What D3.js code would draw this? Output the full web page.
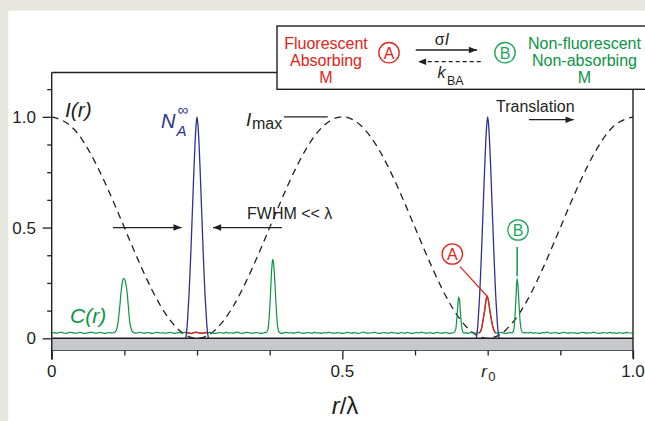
<!DOCTYPE html>
<html>
<head>
<meta charset="utf-8">
<script src="https://cdn.jsdelivr.net/npm/d3@7"></script>
<style>
  body { margin: 0; background: #e7e7df; }
  svg { display: block; font-family: "Liberation Sans", Arial, Helvetica, sans-serif; }
  text { fill: #231f20; }
</style>
</head>
<body>
<svg id="chart" width="645" height="421"></svg>
<script>
// ---------- data ----------

// I(r): excitation intensity, sampled every lambda/32
var intensityVals = [1, 0.962, 0.854, 0.691, 0.5, 0.309, 0.146, 0.038, 0,
  0.038, 0.146, 0.309, 0.5, 0.691, 0.854, 0.962, 1,
  0.962, 0.854, 0.691, 0.5, 0.309, 0.146, 0.038, 0,
  0.038, 0.146, 0.309, 0.5, 0.691, 0.854, 0.962, 1];

// N_A^inf peaks: centres and the shape read around each centre
var nACenters = [0.25, 0.75];
var nAOffsets = [-0.0195, -0.0172, -0.0155, -0.0137, -0.012, -0.0103, -0.0086, -0.0069, -0.0052, -0.0034, -0.0017, 0,
  0.0017, 0.0034, 0.0052, 0.0069, 0.0086, 0.0103, 0.012, 0.0137, 0.0155, 0.0172, 0.0195];
var nAVals = [0, 0.05, 0.12, 0.2, 0.3, 0.41, 0.53, 0.65, 0.77, 0.88, 0.96, 1,
  0.96, 0.88, 0.77, 0.65, 0.53, 0.41, 0.3, 0.2, 0.12, 0.05, 0];

// C(r): noisy background (thousandths), one value every 0.004
var cStep = 0.004;
var cBaseline = [
  24,26,23,25,28,24,22,25,27,26,23,24,27,25,22,24,26,28,25,23,25,27,24,22,25,
  26,24,27,25,23,26,28,24,22,25,26,23,25,27,24,23,26,25,22,24,27,26,24,25,23,
  25,27,24,22,26,25,23,27,26,24,22,25,28,25,23,24,26,24,27,25,22,24,26,25,23,
  27,24,25,23,26,28,24,22,25,27,25,23,24,26,25,22,24,27,26,24,25,23,26,24,22,
  25,27,24,26,23,25,28,25,22,24,26,25,23,27,24,25,22,26,24,27,25,23,24,26,25,
  22,24,27,25,23,26,24,22,25,28,25,23,24,26,27,24,22,25,26,24,23,27,25,24,22,
  26,25,23,27,24,22,25,26,24,28,25,23,24,26,22,25,27,24,23,26,25,22,24,27,25,
  23,26,24,25,22,27,25,24,26,23,25,28,24,22,25,26,24,23,27,25,22,24,26,25,23,
  27,24,22,25,26,24,27,23,25,24,22,26,25,28,24,23,25,26,22,24,27,25,23,26,24,
  25,22,24,27,26,23,25,24,28,25,22,24,26,25,23,27,24,25,22,26,24,23,27,25,24,
  25];

// C(r): peaks of single molecules [r, C]
var cPeaks = [
  [[0.108,0.026],[0.111,0.035],[0.114,0.07],[0.117,0.14],[0.119,0.2],[0.121,0.245],[0.123,0.268],[0.1245,0.27],
   [0.126,0.262],[0.128,0.24],[0.130,0.2],[0.132,0.14],[0.134,0.08],[0.137,0.04],[0.140,0.027]],
  [[0.369,0.026],[0.372,0.04],[0.374,0.09],[0.376,0.18],[0.378,0.29],[0.3795,0.345],[0.3805,0.357],[0.382,0.33],
   [0.384,0.25],[0.386,0.15],[0.388,0.07],[0.390,0.035],[0.392,0.026]],
  [[0.692,0.026],[0.695,0.04],[0.697,0.09],[0.699,0.16],[0.700,0.186],[0.7015,0.175],[0.703,0.12],[0.705,0.06],
   [0.707,0.03],[0.709,0.025]],
  [[0.735,0.024],[0.739,0.04],[0.742,0.08],[0.745,0.13],[0.747,0.17],[0.749,0.19],[0.751,0.175],[0.753,0.14],
   [0.756,0.09],[0.759,0.05],[0.763,0.026]],
  [[0.793,0.026],[0.795,0.04],[0.797,0.1],[0.799,0.2],[0.8005,0.27],[0.802,0.24],[0.804,0.15],[0.806,0.07],
   [0.808,0.035],[0.810,0.026]]
];

// parts of C(r) where the molecules are in state A (drawn red)
var redWindows = [[0.232, 0.268], [0.733, 0.767]];

// ticks
var xTickVals = [0, 0.125, 0.25, 0.375, 0.5, 0.625, 0.75, 0.875, 1];
var xTickLabels = ["0", "", "", "", "0.5", "", "r_0", "", "1.0"];
var yTickVals = [0, 0.125, 0.25, 0.375, 0.5, 0.625, 0.75, 0.875, 1, 1.125];
var yTickLabels = ["0", "", "", "", "0.5", "", "", "", "1.0", ""];

// ---------- layout ----------
var margin = {top: 72.5, right: 12, bottom: 70.5, left: 51.7},
    width = 645 - margin.left - margin.right,
    height = 421 - margin.top - margin.bottom;

var ink = "#231f20", red = "#e2231a", green = "#0b9444", green2 = "#18a657", blue = "#2e3192";

var svg = d3.select("#chart");

// page panel
svg.append("rect").attr("x", 0).attr("y", 0).attr("width", 645).attr("height", 421).attr("fill", "#e7e7df");
svg.append("rect").attr("x", 8.3).attr("y", 10.7).attr("width", 645).attr("height", 421).attr("fill", "#fff");

var defs = svg.append("defs");
defs.append("marker")
    .attr("id", "head")
    .attr("viewBox", "0 0 10 8")
    .attr("refX", 10).attr("refY", 4)
    .attr("markerWidth", 9).attr("markerHeight", 6.5)
    .attr("markerUnits", "userSpaceOnUse")
    .attr("orient", "auto")
  .append("path")
    .attr("d", "M0,0L10,4L0,8Z")
    .attr("fill", ink);

var x = d3.scaleLinear().domain([0, 1]).range([0, width]);
var y = d3.scaleLinear().domain([-0.055, 1.2]).range([height, 0]);

var g = svg.append("g")
    .attr("transform", "translate(" + margin.left + "," + margin.top + ")");

// grey band under zero
g.append("rect")
    .attr("x", 0).attr("y", y(0))
    .attr("width", width).attr("height", y(-0.055) - y(0))
    .attr("fill", "#c6c8ce");

// ---------- series ----------
var intensity = intensityVals.map(function(v, i) { return [i / 32, v]; });

var nA = [];
nACenters.forEach(function(c) {
  nAOffsets.forEach(function(o, i) { nA.push([c + o, nAVals[i]]); });
});

function inPeak(r) {
  return cPeaks.some(function(p) { return r >= p[0][0] && r <= p[p.length - 1][0]; });
}
var cSeries = [];
cBaseline.forEach(function(v, i) {
  var r = i * cStep;
  if (!inPeak(r)) cSeries.push([r, v / 1000]);
});
cPeaks.forEach(function(p) { p.forEach(function(d) { cSeries.push(d); }); });
cSeries.sort(function(a, b) { return a[0] - b[0]; });

var line = d3.line()
    .x(function(d) { return x(d[0]); })
    .y(function(d) { return y(d[1]); })
    .curve(d3.curveMonotoneX);

g.append("path")
    .attr("d", d3.line().x(function(d) { return x(d[0]); }).y(function(d) { return y(d[1]); })
      .curve(d3.curveNatural)(intensity))
    .attr("fill", "none")
    .attr("stroke", ink)
    .attr("stroke-width", 1.3)
    .attr("stroke-dasharray", "7,5");

g.append("path")
    .attr("d", line(cSeries))
    .attr("fill", "none")
    .attr("stroke", green)
    .attr("stroke-width", 1.2);

redWindows.forEach(function(w) {
  var part = cSeries.filter(function(d) { return d[0] >= w[0] && d[0] <= w[1]; });
  g.append("path")
      .attr("d", line(part))
      .attr("fill", "none")
      .attr("stroke", red)
      .attr("stroke-width", 1.4);
});

nACenters.forEach(function(c) {
  var part = nA.filter(function(d) { return Math.abs(d[0] - c) < 0.03; });
  g.append("path")
      .attr("d", line(part))
      .attr("fill", "none")
      .attr("stroke", blue)
      .attr("stroke-width", 1.3);
});

// ---------- frame & axes ----------
g.append("line").attr("x1", 0).attr("x2", width).attr("y1", y(0)).attr("y2", y(0))
    .attr("stroke", ink).attr("stroke-width", 1.4);
g.append("line").attr("x1", 0).attr("x2", width).attr("y1", height).attr("y2", height)
    .attr("stroke", "#555").attr("stroke-width", 1.2);
g.append("line").attr("x1", 0).attr("x2", 0).attr("y1", 0).attr("y2", height + 9)
    .attr("stroke", ink).attr("stroke-width", 1.4);
g.append("line").attr("x1", 0).attr("x2", 277 - margin.left).attr("y1", 0).attr("y2", 0)
    .attr("stroke", ink).attr("stroke-width", 1.4);
g.append("line").attr("x1", width).attr("x2", width).attr("y1", 89 - margin.top).attr("y2", height + 8)
    .attr("stroke", ink).attr("stroke-width", 1.4);

var xAxis = g.append("g")
    .attr("transform", "translate(0," + height + ")")
    .call(d3.axisBottom(x).tickValues(xTickVals).tickSize(5).tickFormat(""));
xAxis.select(".domain").remove();
xAxis.selectAll(".tick line")
    .attr("stroke", ink).attr("stroke-width", 1.3)
    .attr("y2", function(d, i) { return xTickLabels[i] && xTickLabels[i].indexOf("_") < 0 ? 9 : 5; });

xTickVals.forEach(function(v, i) {
  var lab = xTickLabels[i];
  if (!lab) return;
  if (lab.indexOf("_") >= 0) {
    var parts = lab.split("_");
    g.append("text").attr("x", x(v) - 6.5).attr("y", height + 26.5)
        .attr("font-size", 17).attr("font-style", "italic").text(parts[0]);
    g.append("text").attr("x", x(v) + 0.5).attr("y", height + 30)
        .attr("font-size", 13).text(parts[1]);
  } else {
    g.append("text").attr("x", x(v)).attr("y", height + 26.5)
        .attr("text-anchor", "middle").attr("font-size", 17).text(lab);
  }
});

var yAxis = g.append("g")
    .call(d3.axisLeft(y).tickValues(yTickVals).tickSize(4.5).tickFormat(""));
yAxis.select(".domain").remove();
yAxis.selectAll(".tick line")
    .attr("stroke", ink).attr("stroke-width", 1.3)
    .attr("x2", function(d, i) { return yTickLabels[i] ? -9 : -4.5; });
yTickVals.forEach(function(v, i) {
  if (!yTickLabels[i]) return;
  g.append("text").attr("x", -15.7).attr("y", y(v)).attr("dy", "0.36em")
      .attr("text-anchor", "end").attr("font-size", 17).text(yTickLabels[i]);
});

// axis title r/lambda
svg.append("text").attr("x", 345).attr("y", 414).attr("text-anchor", "middle").attr("font-size", 24)
    .call(function(t) {
      t.append("tspan").attr("font-style", "italic").text("r");
      t.append("tspan").text("/λ");
    });

// ---------- annotations in the plot ----------
function arrow(parent, x1, y1, x2, y2, dash) {
  parent.append("line")
      .attr("x1", x1).attr("y1", y1).attr("x2", x2).attr("y2", y2)
      .attr("stroke", ink).attr("stroke-width", 1.3)
      .attr("stroke-dasharray", dash || null)
      .attr("marker-end", "url(#head)");
}
function circled(parent, cx, cy, letter, color) {
  parent.append("circle").attr("cx", cx).attr("cy", cy).attr("r", 10.2)
      .attr("fill", "#fff").attr("stroke", color).attr("stroke-width", 1.3);
  parent.append("text").attr("x", cx).attr("y", cy + 5.8).attr("text-anchor", "middle")
      .attr("font-size", 16).style("fill", color).text(letter);
}

svg.append("text").attr("x", 65).attr("y", 117).attr("font-size", 21).attr("font-style", "italic").text("I(r)");
svg.append("text").attr("x", 70).attr("y", 323).attr("font-size", 21).attr("font-style", "italic")
    .style("fill", green).text("C(r)");

svg.append("text").attr("x", 161).attr("y", 128).attr("font-size", 20).attr("font-style", "italic")
    .style("fill", blue).text("N");
svg.append("text").attr("x", 176.5).attr("y", 136).attr("font-size", 15).attr("font-style", "italic")
    .style("fill", blue).text("A");
svg.append("text").attr("x", 177.5).attr("y", 115).attr("font-size", 15)
    .style("fill", blue).text("∞");

svg.append("text").attr("x", 246).attr("y", 126).attr("font-size", 19).attr("font-style", "italic").text("I");
svg.append("text").attr("x", 252).attr("y", 128.5).attr("font-size", 16).text("max");
g.append("line").attr("x1", x(0.3995)).attr("x2", x(0.4748)).attr("y1", y(1)).attr("y2", y(1))
    .attr("stroke", ink).attr("stroke-width", 1.3);

arrow(g, x(0.1055), y(0.5), x(0.2235), y(0.5));
arrow(g, x(0.396), y(0.5), x(0.2775), y(0.5));
svg.append("text").attr("x", 247).attr("y", 219).attr("font-size", 16).text("FWHM << λ");

svg.append("text").attr("x", 496).attr("y", 111.5).attr("font-size", 16).text("Translation");
arrow(g, x(0.821), y(0.987), x(0.898), y(0.987));

// state markers on the peaks at r0
circled(svg, 452.3, 254, "A", red);
g.append("line").attr("x1", 460 - margin.left).attr("y1", 266.7 - margin.top)
    .attr("x2", x(0.749)).attr("y2", y(0.19))
    .attr("stroke", red).attr("stroke-width", 1.2);
circled(svg, 518, 230, "B", green2);
g.append("line").attr("x1", x(0.8007)).attr("x2", x(0.8007)).attr("y1", 247 - margin.top).attr("y2", y(0.28))
    .attr("stroke", green2).attr("stroke-width", 1.6);

// ---------- scheme box ----------
var box = svg.append("g");
box.append("rect").attr("x", 277).attr("y", 26).attr("width", 400).attr("height", 63.3)
    .attr("fill", "#fff").attr("stroke", ink).attr("stroke-width", 1.4);

var leftLines = ["Fluorescent", "Absorbing", "M"],
    rightLines = ["Non-fluorescent", "Non-absorbing", "M"];
leftLines.forEach(function(s, i) {
  box.append("text").attr("x", 326).attr("y", 49 + i * 17).attr("text-anchor", "middle")
      .attr("font-size", 16).style("fill", red).text(s);
});
rightLines.forEach(function(s, i) {
  box.append("text").attr("x", 584.5).attr("y", 49 + i * 17).attr("text-anchor", "middle")
      .attr("font-size", 16).style("fill", green).text(s);
});
circled(box, 389, 52.7, "A", red);
circled(box, 505, 52.7, "B", green2);

arrow(box, 415.7, 50, 477, 50);
arrow(box, 480.7, 61.7, 418, 61.7, "4,3");
box.append("text").attr("x", 442).attr("y", 44.5).attr("text-anchor", "middle").attr("font-size", 16)
    .call(function(t) {
      t.append("tspan").text("σ");
      t.append("tspan").attr("font-style", "italic").text("I");
    });
box.append("text").attr("x", 437.5).attr("y", 78).attr("font-size", 16).attr("font-style", "italic").text("k");
box.append("text").attr("x", 447).attr("y", 85).attr("font-size", 12.5).text("BA");
</script>
</body>
</html>
